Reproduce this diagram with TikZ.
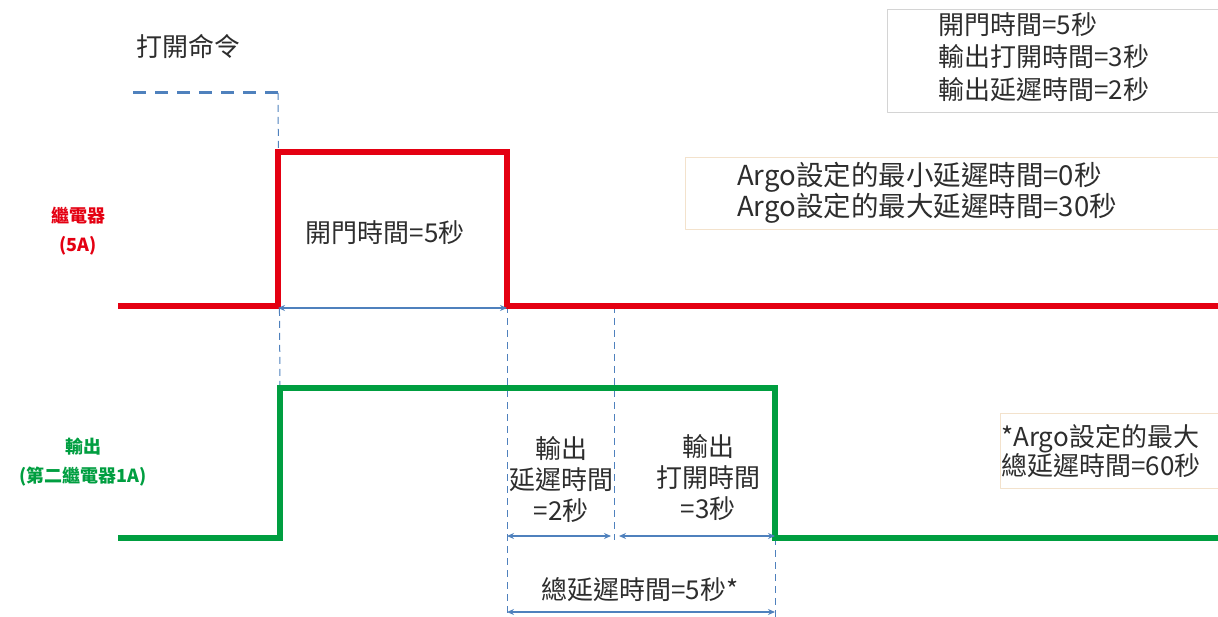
\documentclass[tikz,border=0pt]{standalone}
\usepackage{fontspec}
\setmainfont{Noto Sans CJK TC}
\usetikzlibrary{arrows.meta}
\definecolor{relayred}{RGB}{228,0,18}
\definecolor{outgreen}{RGB}{0,158,64}
\definecolor{guideblue}{RGB}{79,129,189}
\definecolor{boxgray}{RGB}{212,212,212}
\definecolor{boxtan}{RGB}{243,226,204}
\definecolor{txtgray}{RGB}{45,45,45}
\tikzset{
    lab/.style={
        font=\fontsize{26}{31}\selectfont, text=txtgray, align=center
    }
}

\begin{document}
\begin{tikzpicture}[x=1pt,y=-1pt, line cap=round, line join=round]

\tikzset{
  relay/.style={draw=relayred, line width=5.5pt, line cap=butt, line join=miter},
  outsig/.style={draw=outgreen, line width=5.5pt, line cap=butt, line join=miter},
  cmd/.style={draw=guideblue, line width=3pt, line cap=butt, dash pattern=on 13pt off 9pt},
  guide/.style={draw=guideblue, line width=1pt, line cap=butt, dash pattern=on 7pt off 5pt},
  span/.style={draw=guideblue, line width=1.4pt, {Stealth[length=7pt,width=6pt]}-{Stealth[length=7pt,width=6pt]}},
  sidelab/.style={font=\fontsize{18}{29}\selectfont\bfseries, align=center},
  note/.style={lab, align=left, anchor=west, inner sep=0pt},
}

\useasboundingbox (0,0) rectangle (1218,617);

% command and signal corners
\coordinate (C0) at (133,93);
\coordinate (C1) at (278,93);
\coordinate (R0) at (118,306);
\coordinate (R1) at (278,306);
\coordinate (R2) at (278,152);
\coordinate (R3) at (507,152);
\coordinate (R4) at (507,306);
\coordinate (R5) at (1220,306);
\coordinate (G0) at (118,538);
\coordinate (G1) at (280,538);
\coordinate (G2) at (280,388);
\coordinate (G3) at (775,388);
\coordinate (G4) at (775,538);
\coordinate (G5) at (1220,538);
\coordinate (M0) at (614,306);
\coordinate (M1) at (614,540);
\coordinate (B0) at (507,617);
\coordinate (B1) at (775,617);

% guide lines
\draw[guide] (C1) -- (G2);
\draw[guide] (R4) -- (B0);
\draw[guide] (M0) -- (M1);
\draw[guide] (G4) -- (B1);
\draw[cmd] (C0) -- (C1);

% relay (red) and output (green)
\draw[relay] (R0) -- (R1) -- (R2) -- (R3) -- (R4) -- (R5);
\draw[outsig] (G0) -- (G1) -- (G2) -- (G3) -- (G4) -- (G5);

% spans
\draw[span] (278,308) -- (507,308);
\draw[span] (507,536) -- (611,536);
\draw[span] (619,536) -- (775,536);
\draw[span] (507,612) -- (775,612);

% labels
\node[lab] (cmdlab) at (188,46) {打開命令};
\node[lab] (opentime) at (385,233) {開門時間=5秒};
\node[lab] (delaylab) at (561,480) {輸出\\延遲時間\\=2秒};
\node[lab] (onlab) at (708,478) {輸出\\打開時間\\=3秒};
\node[lab] (totlab) at (640,590) {總延遲時間=5秒*};
\node[sidelab, text=relayred] (relaylab) at (78,231) {繼電器\\(5A)};
\node[sidelab, text=outgreen] (outlab) at (83,462) {輸出\\(第二繼電器1A)};

% note boxes
\draw[boxgray, line width=1pt] (1225,10) -- (887,10) -- (887,113) -- (1225,113);
\node[note, font=\fontsize{26}{32.5}\selectfont] (note1) at (938,57) {開門時間=5秒\\輸出打開時間=3秒\\輸出延遲時間=2秒};
\draw[boxtan, line width=1pt] (1225,158) -- (685,158) -- (685,230) -- (1225,230);
\node[note, font=\fontsize{27.5}{30}\selectfont] (note2) at (737,193) {Argo設定的最小延遲時間=0秒\\Argo設定的最大延遲時間=30秒};
\draw[boxtan, line width=1pt] (1225,413) -- (1000,413) -- (1000,488) -- (1225,488);
\node[note, font=\fontsize{26}{29}\selectfont] (note3) at (1001,451) {*Argo設定的最大\\總延遲時間=60秒};

\end{tikzpicture}
\end{document}
